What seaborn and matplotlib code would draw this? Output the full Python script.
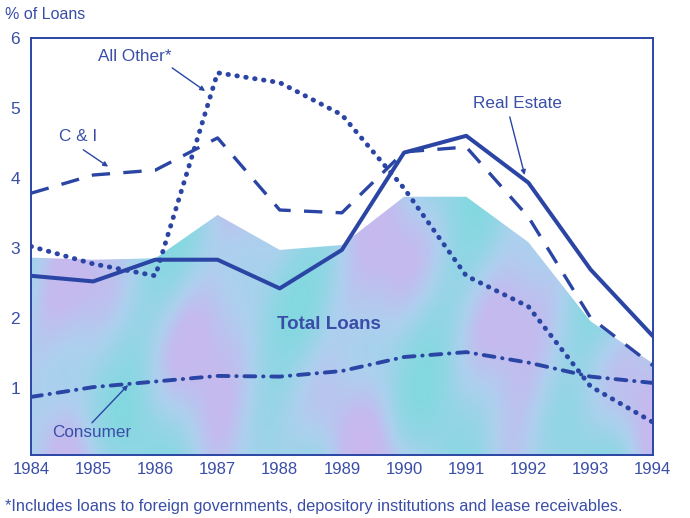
import numpy as np
import pandas as pd
import matplotlib
matplotlib.use("Agg")
import matplotlib.pyplot as plt
from matplotlib.colors import LinearSegmentedColormap
from matplotlib.patches import Polygon
import seaborn as sns

# Data (% of loans)
years = [1984, 1985, 1986, 1987, 1988, 1989, 1990, 1991, 1992, 1993, 1994]
total_loans = [2.86, 2.83, 2.85, 3.47, 2.97, 3.04, 3.73, 3.73, 3.08, 1.95, 1.35]
real_estate = [2.60, 2.52, 2.83, 2.83, 2.42, 2.97, 4.36, 4.60, 3.93, 2.69, 1.74]
c_and_i = [3.78, 4.04, 4.11, 4.57, 3.54, 3.50, 4.37, 4.44, 3.44, 2.00, 1.32]
all_other = [3.02, 2.77, 2.60, 5.50, 5.36, 4.90, 3.85, 2.60, 2.16, 1.02, 0.51]
consumer = [0.87, 1.01, 1.09, 1.17, 1.16, 1.24, 1.44, 1.51, 1.36, 1.16, 1.07]

df = pd.DataFrame({"Year": years, "Total": total_loans, "RealEstate": real_estate,
                   "CI": c_and_i, "AllOther": all_other, "Consumer": consumer})

blue = "#2b45a5"
txt = "#3a4ea8"

sns.set_style("white")
plt.rcParams["font.family"] = ["Liberation Sans", "DejaVu Sans"]

fig = plt.figure(figsize=(6.9, 5.18), dpi=100)
ax = fig.add_axes([0.045, 0.122, 0.901, 0.805])

# Total loans area with a mottled cyan / lavender fill
xx = np.linspace(1984, 1994, 500)
yy = np.linspace(0, 4, 200)
X, Y = np.meshgrid(xx, yy)
Z = (0.45 + 0.25 * np.sin(2.6 * X + 0.9 * np.sin(1.4 * Y))
     + 0.15 * np.sin(1.9 * Y + 1.1 * X) + 0.08 * np.cos(5.3 * X - 2.0 * Y))
cmap = LinearSegmentedColormap.from_list("tl", ["#84d8e0", "#95d5e6", "#add0ee", "#c4bbee", "#cdb6ec"])
im = ax.imshow(Z, extent=[1984, 1994, 0, 4], origin="lower", aspect="auto",
               cmap=cmap, zorder=1, interpolation="bilinear", vmin=0, vmax=1)
verts = list(zip(years, total_loans)) + [(years[-1], 0), (years[0], 0)]
area = Polygon(verts, closed=True, facecolor="none", edgecolor="none")
ax.add_patch(area)
im.set_clip_path(area)

sns.lineplot(data=df, x="Year", y="RealEstate", ax=ax, color=blue, linewidth=2.9,
             linestyle="-", zorder=4)
sns.lineplot(data=df, x="Year", y="CI", ax=ax, color=blue, linewidth=2.4,
             linestyle=(0, (5.5, 4)), zorder=4)
sns.lineplot(data=df, x="Year", y="AllOther", ax=ax, color=blue, linewidth=3.5,
             linestyle=(0, (0.1, 1.75)), dash_capstyle="round", zorder=4)
sns.lineplot(data=df, x="Year", y="Consumer", ax=ax, color=blue, linewidth=2.8,
             linestyle=(0, (2.8, 2.0, 0.1, 2.0)), dash_capstyle="round", zorder=4)

ax.set_xlim(1984, 1994)
ax.set_ylim(0.043, 6)
ax.set_xlabel("")
ax.set_ylabel("")
ax.set_xticks(years)
ax.set_xticklabels([str(y) for y in years])
ax.set_yticks([1, 2, 3, 4, 5, 6])
ax.tick_params(axis="x", length=0, pad=5, labelsize=12, labelcolor=txt)
ax.tick_params(axis="y", direction="in", length=6.5, width=1.2, color=blue,
               pad=8, labelsize=12.5, labelcolor=txt)
for s in ax.spines.values():
    s.set_color(blue)
    s.set_linewidth(1.4)
    s.set_zorder(5)

# Labels and arrows
lab = 12.3
arrow = dict(arrowstyle="-|>", color=blue, lw=1.0, mutation_scale=7, shrinkA=0, shrinkB=0)
ax.text(1985.66, 5.73, "All Other*", ha="center", va="center", fontsize=lab, color=txt, zorder=6)
ax.annotate("", xy=(1986.8, 5.24), xytext=(1986.27, 5.57), arrowprops=arrow, zorder=6)
ax.text(1984.76, 4.59, "C & I", ha="center", va="center", fontsize=lab, color=txt, zorder=6)
ax.annotate("", xy=(1985.24, 4.16), xytext=(1984.84, 4.40), arrowprops=arrow, zorder=6)
ax.text(1991.83, 5.06, "Real Estate", ha="center", va="center", fontsize=lab, color=txt, zorder=6)
ax.annotate("", xy=(1991.94, 4.04), xytext=(1991.70, 4.87), arrowprops=arrow, zorder=6)
ax.text(1984.98, 0.36, "Consumer", ha="center", va="center", fontsize=lab, color=txt, zorder=6)
ax.annotate("", xy=(1985.56, 1.04), xytext=(1984.98, 0.50), arrowprops=arrow, zorder=6)
ax.text(1988.79, 1.91, "Total Loans", ha="center", va="center", fontsize=13.5,
        fontweight="bold", color=txt, zorder=6)

fig.text(0.007, 0.972, "% of Loans", ha="left", va="center", fontsize=11.5, color=txt)
fig.text(0.007, 0.023, "*Includes loans to foreign governments, depository institutions and lease receivables.",
         ha="left", va="center", fontsize=11.8, color=txt)

fig.savefig("out.png", dpi=100)
